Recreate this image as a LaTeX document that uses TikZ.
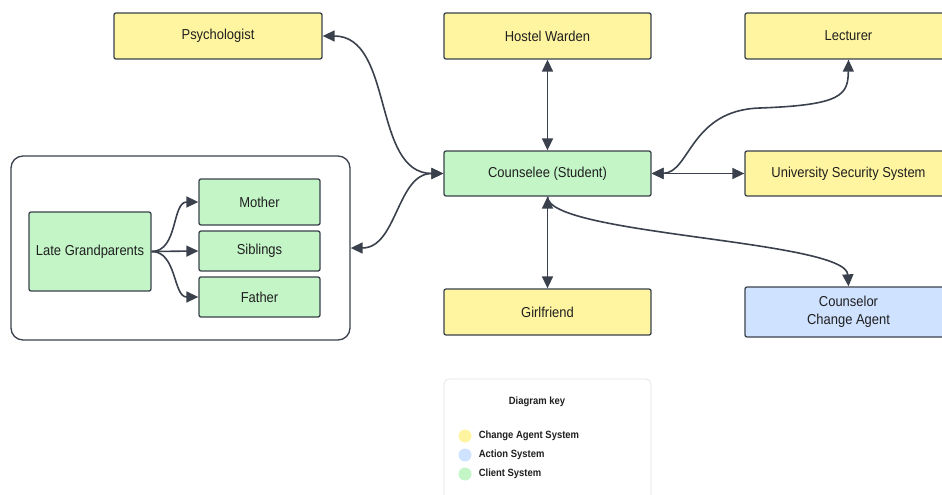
\documentclass[tikz,border=0pt]{standalone}
\usepackage{fontspec}
\setmainfont{Liberation Sans}[FakeStretch=0.9]
\usetikzlibrary{arrows.meta,positioning}
\definecolor{agentyellow}{RGB}{255,245,160}
\definecolor{clientgreen}{RGB}{195,245,199}
\definecolor{actionblue}{RGB}{207,226,255}
\definecolor{edgegray}{RGB}{58,65,76}
\definecolor{keygray}{RGB}{226,228,232}

\begin{document}
\begin{tikzpicture}[x=1pt, y=-1pt, line width=1.6pt, >={Triangle[length=12pt,width=11pt]}]
\useasboundingbox (0,0) rectangle (942,495);
\tikzstyle{every node} = [rectangle, rounded corners=2pt, draw=edgegray, line width=1.3pt, inner sep=0pt, font=\fontsize{14.4}{16}\selectfont, text=black!88]
\tikzstyle{agent} = [fill=agentyellow, minimum width=207pt, minimum height=46pt]
\tikzstyle{client} = [fill=clientgreen, minimum width=207pt, minimum height=46pt]
\tikzstyle{kin} = [fill=clientgreen, minimum width=121pt]
\tikzstyle{link} = [draw=edgegray]
% family group
\node (fam) at (180.5,248) [rounded corners=12pt, minimum width=339pt, minimum height=184pt] {};
\node (grand) at (90,251.5) [kin, minimum width=122pt, minimum height=79pt] {Late Grandparents};
\node (mother) at (259.5,202) [kin, minimum height=46pt] {Mother};
\node (sib) at (259.5,251) [kin, minimum height=40pt] {Siblings};
\node (father) at (259.5,297) [kin, minimum height=40pt] {Father};
% systems
\node (psy) at (218,36) [agent, minimum width=208pt] {Psychologist};
\node (warden) at (547.5,36) [agent] {Hostel Warden};
\node (lect) at (848.5,36) [agent] {Lecturer};
\node (stud) at (547.5,173.5) [client, minimum height=45pt] {Counselee (Student)};
\node (secur) at (848.5,173.5) [agent, minimum height=45pt] {University Security System};
\node (girl) at (547.5,312) [agent] {Girlfriend};
\node (couns) at (848.5,312) [fill=actionblue, minimum width=207pt, minimum height=50pt, align=center, font=\fontsize{14.4}{18}\selectfont] {Counselor\\Change Agent};
% links
\draw[link, ->] (grand.east) to [out=0, in=180] (mother.west);
\draw[link, ->] (grand.east) -- (sib.west);
\draw[link, ->] (grand.east) to [out=0, in=180] (father.west);
\draw[link, <->] (stud.west) to [out=180, in=0] (psy.east);
\draw[link, <->] (stud.west) to [out=180, in=0] (fam.east);
\draw[link, <->] (warden.south) -- (stud.north);
\draw[link, <->] (stud.east) -- (secur.west);
\draw[link, <->] (stud.south) -- (girl.north);
\draw[link, <->] (stud.east) .. controls (690,173) and (690,110) .. (760,108) .. controls (842,105) and (848,95) .. (lect.south);
\draw[link, ->] (stud.south) .. controls (547,235) and (846,240) .. (couns.north);
% diagram key
\node (key) at (547.5,442) [draw=keygray, line width=0.8pt, rounded corners=5pt, minimum width=207pt, minimum height=126pt] {};
\tikzstyle{every node} = [inner sep=0pt, font=\bfseries\fontsize{10.5}{12}\selectfont, text=black!88]
\node (keytitle) at (537,402) {Diagram key};
\fill[agentyellow] (465,436) circle (6.5);
\fill[actionblue] (465,455) circle (6.5);
\fill[clientgreen] (465,474) circle (6.5);
\node (keyagent) at (478,436) [anchor=west] {Change Agent System};
\node (keyaction) at (478,455) [anchor=west] {Action System};
\node (keyclient) at (478,474) [anchor=west] {Client System};
\end{tikzpicture}
\end{document}
